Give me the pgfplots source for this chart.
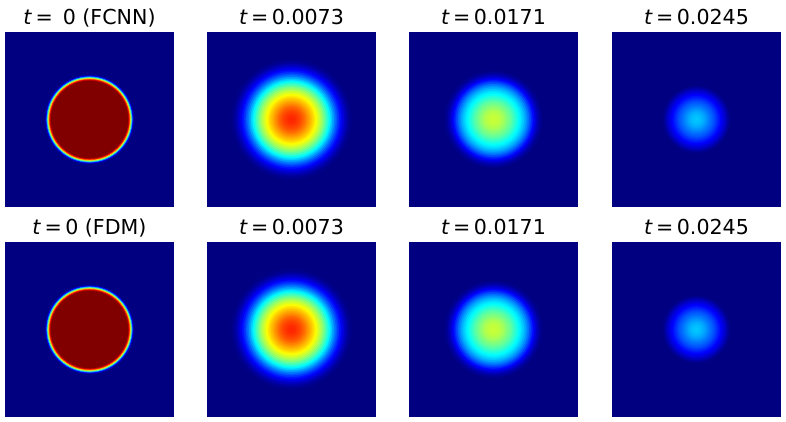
\documentclass[border=0pt]{standalone}
\usepackage{fontspec}
\setmainfont{DejaVu Sans}
\usepackage{pgfplots}
\pgfplotsset{compat=1.18}
\usepackage{pgfplotstable}
\definecolor{jetlow}{RGB}{0,0,128}

% radial profiles: rings drawn from the outside in (cx cy radius value)
\pgfplotstableread{
cx cy r v
0 0 0.535 0.00
0 0 0.525 0.04
0 0 0.515 0.12
0 0 0.505 0.30
0 0 0.495 0.50
0 0 0.485 0.68
0 0 0.475 0.85
0 0 0.465 0.95
0 0 0.455 1.00
}\tzero
\pgfplotstableread{
cx cy r v
0 0 0.74 0.000
0 0 0.72 0.005
0 0 0.70 0.013
0 0 0.68 0.025
0 0 0.66 0.043
0 0 0.64 0.065
0 0 0.62 0.090
0 0 0.60 0.115
0 0 0.58 0.145
0 0 0.56 0.175
0 0 0.54 0.210
0 0 0.52 0.245
0 0 0.50 0.285
0 0 0.48 0.325
0 0 0.46 0.365
0 0 0.44 0.405
0 0 0.42 0.440
0 0 0.40 0.475
0 0 0.38 0.510
0 0 0.36 0.540
0 0 0.34 0.570
0 0 0.32 0.595
0 0 0.30 0.620
0 0 0.28 0.645
0 0 0.26 0.670
0 0 0.24 0.690
0 0 0.22 0.710
0 0 0.20 0.730
0 0 0.18 0.750
0 0 0.16 0.770
0 0 0.14 0.785
0 0 0.12 0.800
0 0 0.10 0.810
0 0 0.08 0.820
0 0 0.06 0.830
0 0 0.04 0.835
0 0 0.02 0.840
}\tone
\pgfplotstableread{
cx cy r v
0 0 0.60 0.000
0 0 0.58 0.008
0 0 0.56 0.020
0 0 0.54 0.040
0 0 0.52 0.065
0 0 0.50 0.095
0 0 0.48 0.130
0 0 0.46 0.165
0 0 0.44 0.200
0 0 0.42 0.235
0 0 0.40 0.265
0 0 0.38 0.295
0 0 0.36 0.320
0 0 0.34 0.345
0 0 0.32 0.365
0 0 0.30 0.385
0 0 0.28 0.405
0 0 0.26 0.425
0 0 0.24 0.445
0 0 0.22 0.465
0 0 0.20 0.480
0 0 0.18 0.495
0 0 0.16 0.510
0 0 0.14 0.525
0 0 0.12 0.540
0 0 0.10 0.550
0 0 0.08 0.558
0 0 0.06 0.564
0 0 0.04 0.568
0 0 0.02 0.570
}\ttwo
\pgfplotstableread{
cx cy r v
0 0 0.42 0.000
0 0 0.40 0.010
0 0 0.38 0.030
0 0 0.36 0.055
0 0 0.34 0.080
0 0 0.32 0.100
0 0 0.30 0.120
0 0 0.28 0.140
0 0 0.26 0.160
0 0 0.24 0.180
0 0 0.22 0.200
0 0 0.20 0.215
0 0 0.18 0.230
0 0 0.16 0.245
0 0 0.14 0.260
0 0 0.12 0.275
0 0 0.10 0.290
0 0 0.08 0.300
0 0 0.06 0.310
0 0 0.04 0.315
0 0 0.02 0.320
}\tthree

\pgfplotsset{
  panel/.style={
    anchor=north west, scale only axis,
    width=84.5pt, height=87.5pt,
    xmin=-1, xmax=1, ymin=-1, ymax=1,
    xtick=\empty, ytick=\empty,
    axis line style={draw=none},
    axis background/.style={fill=jetlow},
    colormap/jet, point meta min=0, point meta max=1,
    title style={at={(0.5,1)}, anchor=base, yshift=-2.4pt,
                 font=\fontsize{10.3}{12}\selectfont},
  },
  blob/.style={
    scatter, only marks, mark=*,
    scatter/use mapped color={draw=mapped color, fill=mapped color},
    mark options={line width=0.2pt},
    point meta=\thisrow{v},
    visualization depends on={\thisrow{r} \as \rr},
    scatter/@pre marker code/.append style={/tikz/mark size=42.25*\rr},
  },
}

\begin{document}
\begin{tikzpicture}
\path[use as bounding box] (0,0) rectangle (393pt,-211pt);

\begin{axis}[panel, at={(2.5pt,-16pt)}, title={\textit{t}\,=\, 0 (FCNN)}]
\addplot[blob] table[x=cx, y=cy] {\tzero};
\end{axis}
\begin{axis}[panel, at={(103.5pt,-16pt)}, title={\textit{t}\,=\,0.0073}]
\addplot[blob] table[x=cx, y=cy] {\tone};
\end{axis}
\begin{axis}[panel, at={(204.5pt,-16pt)}, title={\textit{t}\,=\,0.0171}]
\addplot[blob] table[x=cx, y=cy] {\ttwo};
\end{axis}
\begin{axis}[panel, at={(306pt,-16pt)}, title={\textit{t}\,=\,0.0245}]
\addplot[blob] table[x=cx, y=cy] {\tthree};
\end{axis}

\begin{axis}[panel, at={(2.5pt,-121pt)}, title={\textit{t}\,=\,0 (FDM)}]
\addplot[blob] table[x=cx, y=cy] {\tzero};
\end{axis}
\begin{axis}[panel, at={(103.5pt,-121pt)}, title={\textit{t}\,=\,0.0073}]
\addplot[blob] table[x=cx, y=cy] {\tone};
\end{axis}
\begin{axis}[panel, at={(204.5pt,-121pt)}, title={\textit{t}\,=\,0.0171}]
\addplot[blob] table[x=cx, y=cy] {\ttwo};
\end{axis}
\begin{axis}[panel, at={(306pt,-121pt)}, title={\textit{t}\,=\,0.0245}]
\addplot[blob] table[x=cx, y=cy] {\tthree};
\end{axis}
\end{tikzpicture}
\end{document}
